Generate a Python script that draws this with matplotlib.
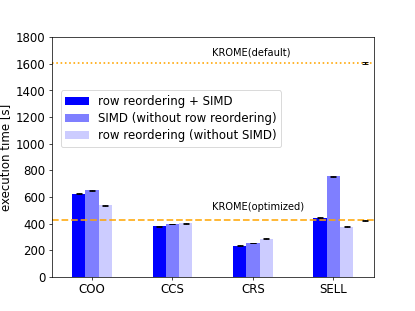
import matplotlib
matplotlib.use("Agg")
import matplotlib.pyplot as plt
import numpy as np

formats = ["COO", "CCS", "CRS", "SELL"]
labels = ["row reordering + SIMD", "SIMD (without row reordering)", "row reordering (without SIMD)"]
reorder_simd = [625, 380, 232, 445]
simd_only = [648, 397, 254, 755]
reorder_only = [537, 402, 286, 375]
err_reorder_simd = [3, 3, 3, 3]
err_simd_only = [3, 3, 3, 3]
err_reorder_only = [3, 3, 3, 3]
krome_default = 1605
krome_default_err = 10
krome_opt = 425
krome_opt_err = 3

plt.rcParams["font.size"] = 13
fig, ax = plt.subplots(figsize=(6.4, 4.8), dpi=415 / 6.4)
x = np.arange(len(formats))
w = 0.165
series = [reorder_simd, simd_only, reorder_only]
errs = [err_reorder_simd, err_simd_only, err_reorder_only]
alphas = [1.0, 0.5, 0.2]
for i, (vals, e, a, lab) in enumerate(zip(series, errs, alphas, labels)):
    ax.bar(x + (i - 1) * w, vals, w, color="blue", alpha=a, label=lab)
    ax.errorbar(x + (i - 1) * w, vals, yerr=e, fmt="none", ecolor="black", capsize=3.5, elinewidth=1.3)

ax.axhline(krome_default, color="orange", linestyle=":", linewidth=1.8)
ax.axhline(krome_opt, color="orange", linestyle="--", linewidth=2, alpha=0.85)
ax.errorbar([3.4], [krome_default], yerr=krome_default_err, fmt="none", ecolor="black", capsize=3.5, elinewidth=1.3)
ax.errorbar([3.4], [krome_opt], yerr=krome_opt_err, fmt="none", ecolor="black", capsize=3.5, elinewidth=1.3)
ax.text(1.49, 1660, "KROME(default)", fontsize=11)
ax.text(1.49, 500, "KROME(optimized)", fontsize=11)

ax.set_xlim(-0.5, 3.5)
ax.set_ylim(0, 1800)
ax.set_yticks(np.arange(0, 1801, 200))
ax.set_xticks(x)
ax.set_xticklabels(formats)
ax.set_ylabel("execution time [s]")
ax.legend(loc="upper left", bbox_to_anchor=(0.027, 0.778), borderaxespad=0, labelspacing=0.35)
fig.savefig("out.png", dpi=415 / 6.4)
